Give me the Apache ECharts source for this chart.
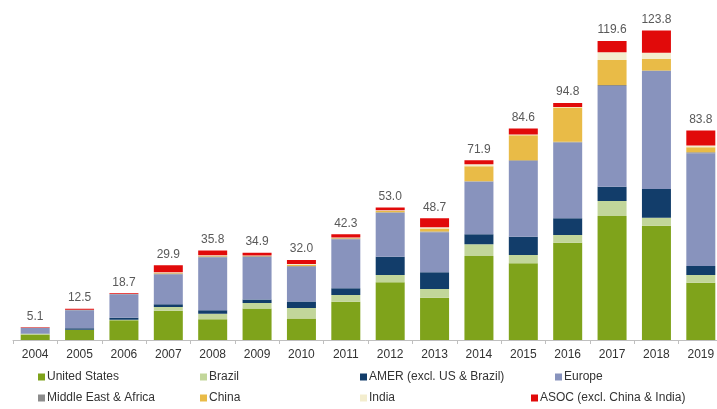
<!DOCTYPE html>
<html>
<head>
<meta charset="utf-8">
<script src="https://cdn.jsdelivr.net/npm/echarts@6/dist/echarts.min.js"></script>
<style>
  html, body { margin: 0; padding: 0; background: #ffffff; }
  #chart { width: 717px; height: 409px; }
</style>
</head>
<body>
<div id="chart"></div>
<script>
// Yearly investment by region (stacked), total shown above each column
var years = ['2004','2005','2006','2007','2008','2009','2010','2011','2012','2013','2014','2015','2016','2017','2018','2019'];

var unitedStates = [2.2, 4.0, 7.9, 11.7, 8.3, 12.6, 8.6, 15.3, 23.1, 16.9, 33.6, 30.7, 38.9, 49.6, 45.7, 22.9];
var brazil       = [0.3, 0.1, 0.2, 1.5, 2.2, 2.2, 4.2, 2.7, 2.9, 3.5, 4.7, 3.3, 3.1, 6.0, 3.2, 3.1];
var amer         = [0.1, 0.6, 0.8, 1.1, 1.4, 1.4, 2.6, 2.7, 7.3, 6.7, 4.0, 7.3, 6.7, 5.7, 11.5, 3.6];
var europe       = [2.2, 7.2, 9.4, 12.0, 21.2, 17.0, 13.9, 19.6, 17.6, 16.0, 21.1, 30.3, 30.3, 40.3, 47.2, 45.1];
var mea          = [0.1, 0.2, 0.1, 0.3, 0.3, 0.3, 0.3, 0.3, 0.2, 0.3, 0.1, 0.3, 0.3, 0.4, 0.2, 0.4];
var china        = [0.0, 0.0, 0.0, 0.2, 0.2, 0.1, 0.5, 0.2, 0.5, 1.2, 6.0, 10.0, 13.7, 10.0, 4.7, 2.0];
var india        = [0.0, 0.0, 0.0, 0.3, 0.3, 0.2, 0.3, 0.2, 0.3, 0.5, 0.8, 0.3, 0.2, 3.1, 2.4, 0.7];
var asoc         = [0.2, 0.4, 0.3, 2.8, 1.9, 1.1, 1.6, 1.3, 1.1, 3.6, 1.6, 2.4, 1.6, 4.5, 8.9, 6.0];

var seriesDefs = [
  { name: 'United States', data: unitedStates, color: '#7fa31b' },
  { name: 'Brazil', data: brazil, color: '#c2d69a' },
  { name: 'AMER (excl. US & Brazil)', data: amer, color: '#123d6a' },
  { name: 'Europe', data: europe, color: '#8893bd' },
  { name: 'Middle East & Africa', data: mea, color: '#8c8c8c' },
  { name: 'China', data: china, color: '#e9bb47' },
  { name: 'India', data: india, color: '#f3edce' },
  { name: 'ASOC (excl. China & India)', data: asoc, color: '#e10a0a' }
];

// column totals, summed from the segments
var totals = years.map(function (_, i) {
  var s = 0;
  seriesDefs.forEach(function (d) { s += d.data[i]; });
  return s;
});

var FONT = '"Liberation Sans", Arial, sans-serif';

var series = seriesDefs.map(function (d, idx) {
  var s = {
    name: d.name,
    type: 'bar',
    stack: 'total',
    data: d.data,
    barWidth: 29,
    itemStyle: { color: d.color },
    emphasis: { disabled: true }
  };
  if (idx === seriesDefs.length - 1) {
    s.label = {
      show: true,
      position: 'top',
      distance: 5,
      color: '#595959',
      fontSize: 12,
      fontFamily: FONT,
      formatter: function (p) { return totals[p.dataIndex].toFixed(1); }
    };
  }
  return s;
});

// legend entries placed in two rows of four
var legendPos = [
  [38, 371], [200, 371], [360, 371], [555, 371],
  [38, 392], [200, 392], [360, 392], [531, 392]
];
var legends = seriesDefs.map(function (d, i) {
  return {
    data: [d.name],
    left: legendPos[i][0],
    top: legendPos[i][1],
    itemWidth: 7,
    itemHeight: 7,
    icon: 'rect',
    padding: 0,
    selectedMode: false,
    textStyle: { color: '#333333', fontSize: 12, fontFamily: FONT, padding: [0, 0, 0, -3] }
  };
});

var chart = echarts.init(document.getElementById('chart'), null, { renderer: 'canvas' });
chart.setOption({
  animation: false,
  backgroundColor: '#ffffff',
  legend: legends,
  grid: { left: 13, right: -6, top: 15, bottom: 69, containLabel: false, outerBoundsMode: 'none' },
  xAxis: {
    type: 'category',
    data: years,
    axisLine: { lineStyle: { color: '#bfbfbf', width: 1 } },
    axisTick: { show: true, length: 4, lineStyle: { color: '#bfbfbf' } },
    axisLabel: { color: '#333333', fontSize: 12, fontFamily: FONT, margin: 9 }
  },
  yAxis: {
    type: 'value',
    min: 0,
    max: 130,
    show: false,
    splitLine: { show: false }
  },
  series: series
});
</script>
</body>
</html>
